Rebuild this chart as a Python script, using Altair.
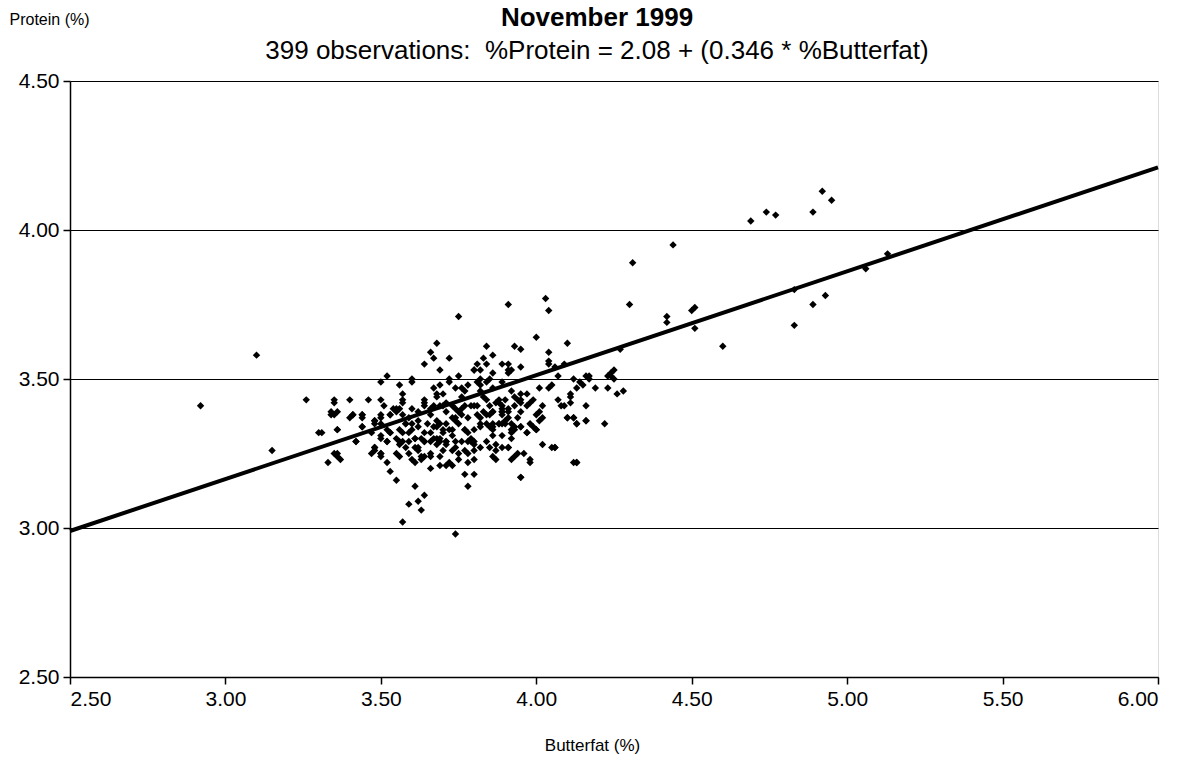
import altair as alt
import pandas as pd

# ---------------- data ----------------
# Butterfat (%) / Protein (%) pairs, grouped by region of the cloud
bf_sparse = [2.92, 3.10, 3.15, 3.26, 3.30, 3.74, 3.57, 3.59, 3.62, 3.63, 3.64, 3.61, 3.53, 3.55,
             3.75, 3.91, 4.03, 4.04, 4.31, 4.30, 4.44, 4.42, 4.42, 4.50, 4.51, 4.51, 4.60,
             4.69, 4.74, 4.77, 4.89, 4.92, 4.95, 4.83, 4.83, 4.89, 4.93, 5.06, 5.13,
             4.27, 4.12, 3.95, 4.13, 4.17, 4.17, 4.23, 4.24, 4.25, 4.25, 4.24, 4.19, 4.23,
             4.26, 4.28, 4.22, 4.16, 4.13]
pr_sparse = [3.41, 3.58, 3.26, 3.43, 3.32, 2.98, 3.02, 3.08, 3.09, 3.06, 3.11, 3.14, 3.19, 3.16,
             3.71, 3.75, 3.77, 3.73, 3.89, 3.75, 3.95, 3.71, 3.69, 3.73, 3.74, 3.67, 3.61,
             4.03, 4.06, 4.05, 4.06, 4.13, 4.10, 3.68, 3.80, 3.75, 3.78, 3.87, 3.92,
             3.60, 3.22, 3.17, 3.22, 3.51, 3.50, 3.51, 3.52, 3.53, 3.50, 3.51, 3.47, 3.47,
             3.45, 3.46, 3.35, 3.36, 3.35]

bf_upper = [3.68, 3.66, 3.67, 3.64, 3.72, 3.69, 3.52, 3.60, 3.72, 3.75,
            3.84, 3.83, 3.86, 3.81, 3.82, 3.84, 3.80, 3.80, 3.86, 3.82, 3.85,
            3.93, 3.95, 3.89, 3.91, 3.91, 3.92, 3.91, 3.95,
            4.00, 4.10, 4.04, 4.04, 4.04, 4.06, 4.09, 4.07,
            4.12, 4.14, 4.16, 4.15, 4.13, 4.11,
            4.01, 4.04, 4.05, 3.76, 3.77, 3.76, 3.86, 3.81, 3.92,
            3.95, 3.97, 3.99, 3.98, 3.97, 3.94, 3.93, 3.90, 3.88, 3.89, 3.85, 3.80, 3.81, 3.79,
            4.02, 4.09, 4.11, 4.16,
            3.50, 3.60, 3.56, 3.57, 3.57, 3.50, 3.51, 3.46, 3.40, 3.35, 3.35,
            3.72, 3.69, 3.68, 3.70, 3.67, 3.64, 3.67, 3.69, 3.71, 3.74, 3.55, 3.64,
            3.78, 3.82, 3.84, 3.89]
pr_upper = [3.62, 3.59, 3.57, 3.55, 3.57, 3.53, 3.51, 3.50, 3.50, 3.51,
            3.61, 3.57, 3.58, 3.55, 3.53, 3.55, 3.53, 3.53, 3.52, 3.50, 3.50,
            3.61, 3.60, 3.55, 3.55, 3.53, 3.53, 3.52, 3.54,
            3.64, 3.62, 3.59, 3.56, 3.55, 3.54, 3.55, 3.51,
            3.50, 3.49, 3.51, 3.48, 3.47, 3.45,
            3.47, 3.47, 3.48, 3.47, 3.46, 3.44, 3.47, 3.49, 3.46,
            3.45, 3.45, 3.43, 3.42, 3.41, 3.43, 3.41, 3.43, 3.43, 3.41, 3.41, 3.41, 3.41, 3.41,
            3.41, 3.41, 3.42, 3.41,
            3.49, 3.49, 3.48, 3.45, 3.43, 3.43, 3.41, 3.43, 3.43, 3.43, 3.42,
            3.49, 3.48, 3.45, 3.45, 3.47, 3.43, 3.41, 3.41, 3.42, 3.47, 3.40, 3.41,
            3.48, 3.48, 3.49, 3.49]

bf_middle = [3.57, 3.64, 3.68, 3.70, 3.73, 3.77, 3.82, 3.83, 3.84, 3.87, 3.88, 3.93, 3.95, 3.95,
             4.07, 4.08, 4.11,
             3.41, 3.44, 3.53, 3.54, 3.56, 3.59, 3.60, 3.62, 3.66, 3.66, 3.71, 3.74, 3.75, 3.76,
             3.85, 3.86, 3.89, 3.89, 3.91, 3.91, 4.01, 4.10, 4.12, 3.34, 3.35,
             3.36, 3.44, 3.48, 3.48, 3.50, 3.52, 3.53, 3.56, 3.57, 3.58, 3.60, 3.62, 3.62, 3.64,
             3.65, 3.66, 3.67, 3.68, 3.69, 3.70, 3.71, 3.72, 3.73, 3.73, 3.74, 3.75, 3.77, 3.78,
             3.80, 3.82, 3.84, 3.85, 3.86, 3.86, 3.88, 3.89, 3.90, 3.92, 3.92, 3.93, 3.95, 3.97,
             3.98, 4.00, 4.01,
             3.42, 3.48, 3.50, 3.50, 3.52, 3.55, 3.56, 3.57, 3.59, 3.61, 3.61, 3.62, 3.63, 3.64,
             3.67, 3.68, 3.68, 3.69, 3.71, 3.71, 3.73, 3.74, 3.76, 3.79, 3.80, 3.82, 3.84, 3.87,
             3.89, 3.91, 3.94, 3.96, 3.98, 4.02, 4.06, 3.36, 3.48, 3.56, 3.60, 3.63, 3.66]
pr_middle = [3.42, 3.42, 3.44, 3.41, 3.41, 3.41, 3.46, 3.44, 3.43, 3.42, 3.42, 3.44, 3.43, 3.42,
             3.43, 3.41, 3.44,
             3.38, 3.38, 3.38, 3.40, 3.40, 3.37, 3.40, 3.39, 3.40, 3.38, 3.39, 3.40, 3.39, 3.40,
             3.38, 3.39, 3.40, 3.39, 3.40, 3.37, 3.39, 3.37, 3.37, 3.39, 3.38,
             3.33, 3.34, 3.35, 3.36, 3.38, 3.33, 3.32, 3.33, 3.32, 3.35, 3.33, 3.36, 3.34, 3.32,
             3.35, 3.32, 3.34, 3.36, 3.35, 3.33, 3.35, 3.33, 3.31, 3.37, 3.36, 3.35, 3.33, 3.32,
             3.29, 3.35, 3.35, 3.34, 3.33, 3.31, 3.35, 3.35, 3.36, 3.35, 3.32, 3.33, 3.34, 3.32,
             3.35, 3.33, 3.36,
             3.29, 3.27, 3.25, 3.30, 3.29, 3.30, 3.28, 3.29, 3.29, 3.30, 3.27, 3.26, 3.30, 3.29,
             3.30, 3.28, 3.30, 3.29, 3.29, 3.28, 3.26, 3.27, 3.29, 3.29, 3.26, 3.27, 3.29, 3.28,
             3.27, 3.27, 3.25, 3.25, 3.23, 3.28, 3.27, 3.25, 3.26, 3.24, 3.23, 3.23, 3.24]

bf_lower = [3.34, 3.36, 3.40, 3.41, 3.44, 3.44, 3.36, 3.31, 3.44, 3.42, 3.47, 3.48, 3.50, 3.50,
            3.35, 3.36, 3.37, 3.33, 3.48, 3.47, 3.50, 3.50, 3.52,
            3.53, 3.55, 3.57, 3.58, 3.60, 3.59, 3.56, 3.55, 3.58, 3.59, 3.61, 3.62, 3.64, 3.64,
            3.66, 3.66, 3.68, 3.69, 3.70, 3.70, 3.71, 3.72, 3.73, 3.74, 3.74, 3.75, 3.75, 3.69,
            3.66, 3.69, 3.71, 3.73, 3.61, 3.63, 3.53, 3.52, 3.50,
            3.76, 3.78, 3.81, 3.82, 3.84, 3.83, 3.86, 3.89, 3.89, 3.91, 3.94, 3.95, 4.00, 4.02,
            4.10, 4.12, 4.13, 4.16,
            3.77, 3.79, 3.80, 3.78, 3.80, 3.82, 3.86, 3.86, 3.88, 3.90, 3.89, 3.92, 3.93, 3.95,
            3.92, 3.97, 3.99, 4.00, 3.91, 3.85, 3.87, 3.86, 3.87, 3.92, 3.93, 3.98, 4.06, 4.05,
            4.13, 3.95, 3.77, 3.78, 3.78, 3.77, 3.80, 3.78, 3.80]
pr_lower = [3.38, 3.39, 3.37, 3.38, 3.38, 3.37, 3.33, 3.32, 3.34, 3.29, 3.32, 3.36, 3.37, 3.35,
            3.25, 3.24, 3.23, 3.22, 3.27, 3.25, 3.25, 3.24, 3.22,
            3.38, 3.39, 3.38, 3.35, 3.35, 3.32, 3.29, 3.25, 3.27, 3.25, 3.30, 3.27, 3.29, 3.24,
            3.25, 3.29, 3.34, 3.30, 3.26, 3.32, 3.29, 3.22, 3.33, 3.37, 3.29, 3.25, 3.23, 3.24,
            3.20, 3.21, 3.21, 3.21, 3.22, 3.24, 3.32, 3.29, 3.31,
            3.38, 3.37, 3.38, 3.37, 3.38, 3.39, 3.39, 3.39, 3.38, 3.39, 3.37, 3.39, 3.38, 3.37,
            3.37, 3.37, 3.35, 3.36,
            3.33, 3.30, 3.33, 3.29, 3.28, 3.34, 3.35, 3.34, 3.35, 3.35, 3.31, 3.33, 3.34, 3.34,
            3.30, 3.32, 3.34, 3.33, 3.27, 3.27, 3.26, 3.24, 3.23, 3.23, 3.24, 3.22, 3.27, 3.27,
            3.22, 3.17, 3.26, 3.25, 3.22, 3.18, 3.18, 3.14, 3.23]

# fitted line as drawn on the chart (end points)
line_bf = [2.50, 6.00]
line_pr = [2.99, 4.21]

x_ticks = [2.5, 3.0, 3.5, 4.0, 4.5, 5.0, 5.5, 6.0]
y_ticks = [2.5, 3.0, 3.5, 4.0, 4.5]

title_text = ["November 1999"]
subtitle_text = ["399 observations:\u00a0\u00a0%Protein = 2.08 + (0.346 * %Butterfat)"]

# ---------------- chart ----------------
FONT = "Liberation Sans"

points = pd.DataFrame({
    "Butterfat": bf_sparse + bf_upper + bf_middle + bf_lower,
    "Protein": pr_sparse + pr_upper + pr_middle + pr_lower,
})
fit = pd.DataFrame({"Butterfat": line_bf, "Protein": line_pr})

xs = alt.Scale(domain=[2.5, 6.0], nice=False, zero=False)
ys = alt.Scale(domain=[2.5, 4.5], nice=False, zero=False)

x_axis = alt.Axis(
    values=x_ticks, format=".2f", grid=False, title="Butterfat (%)",
    domainColor="black", domainWidth=1.5, tickColor="black", tickSize=7, tickWidth=1.5,
    labelFont=FONT, labelFontSize=21, labelColor="black", labelPadding=4,
    titleFont=FONT, titleFontSize=17, titleFontWeight="normal", titleColor="black",
    titleX=522, titleY=68, titleAlign="center", titleBaseline="middle",
)
y_axis = alt.Axis(
    values=y_ticks, format=".2f", grid=True, gridColor="black", gridWidth=1, gridOpacity=1,
    title="Protein (%)",
    domainColor="black", domainWidth=1.5, tickColor="black", tickSize=7, tickWidth=1.5,
    labelFont=FONT, labelFontSize=21, labelColor="black", labelPadding=4,
    titleFont=FONT, titleFontSize=16, titleFontWeight="normal", titleColor="black",
    titleAngle=0, titleX=-61, titleY=-62, titleAlign="left", titleBaseline="middle",
)

scatter = alt.Chart(points).mark_point(
    shape="diamond", filled=True, color="black", size=55, opacity=1, strokeWidth=0
).encode(
    x=alt.X("Butterfat:Q", scale=xs, axis=x_axis),
    y=alt.Y("Protein:Q", scale=ys, axis=y_axis),
)

fit_line = alt.Chart(fit).mark_line(color="black", strokeWidth=4).encode(
    x=alt.X("Butterfat:Q", scale=xs),
    y=alt.Y("Protein:Q", scale=ys),
)

title_mark = alt.Chart(pd.DataFrame({"t": title_text})).mark_text(
    font=FONT, fontSize=26, fontWeight="bold", color="black",
    align="center", baseline="middle",
).encode(text="t:N", x=alt.value(527), y=alt.value(-63))

subtitle_mark = alt.Chart(pd.DataFrame({"t": subtitle_text})).mark_text(
    font=FONT, fontSize=26, color="black",
    align="center", baseline="middle",
).encode(text="t:N", x=alt.value(527), y=alt.value(-30))

chart = alt.layer(scatter, fit_line, title_mark, subtitle_mark).properties(
    width=1088,
    height=596,
    autosize=alt.AutoSizeParams(type="none"),
    padding={"left": 70, "top": 81, "right": 35, "bottom": 88},
).configure_view(
    stroke="black", strokeWidth=1.5
).configure(background="white")

chart.save("out.html", embed_options={"renderer": "svg", "actions": False})
